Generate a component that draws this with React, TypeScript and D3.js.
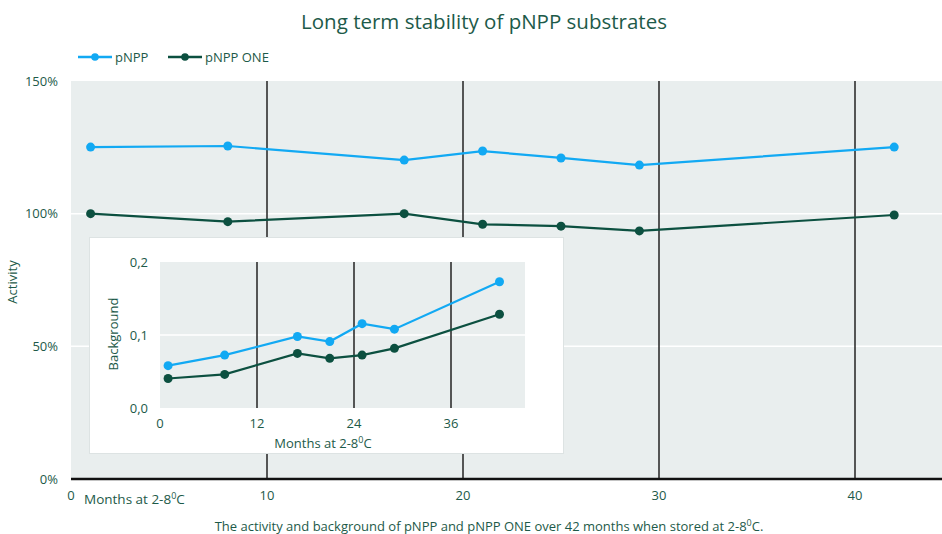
import React from "react";
import * as d3 from "d3";

const months = [1, 8, 17, 21, 25, 29, 42];
const activityPNPP = [125.1, 125.5, 120.2, 123.6, 121.0, 118.3, 125.1];
const activityONE = [100.0, 97.0, 100.0, 96.0, 95.3, 93.5, 99.5];
const backgroundPNPP = [0.058, 0.0725, 0.098, 0.091, 0.1155, 0.108, 0.173];
const backgroundONE = [0.0404, 0.046, 0.0748, 0.068, 0.0725, 0.0817, 0.1285];
const mainXTicks = [0, 10, 20, 30, 40];
const mainYTicks = [0, 50, 100, 150];
const insetXTicks = [0, 12, 24, 36];
const insetYTicks = [0, 0.1, 0.2];
const seriesNames = ["pNPP", "pNPP ONE"];

const BLUE = "#12a9f3";
const DARK = "#0c5040";
const TEXT = "#1d5a49";
const GRAY = "#e9eeee";
const FONT = "'Open Sans', sans-serif";

export default function App() {
  const W = 942;
  const H = 534;
  const x = d3.scaleLinear().domain([0, 10]).range([71, 267]);
  const y = d3.scaleLinear().domain([0, 150]).range([479, 81]);
  const xi = d3.scaleLinear().domain([0, 12]).range([160, 257]);
  const yi = d3.scaleLinear().domain([0, 0.2]).range([408, 262]);

  const mainLine = d3
    .line<number>()
    .x((_, i) => x(months[i]))
    .y((d) => y(d));
  const insetLine = d3
    .line<number>()
    .x((_, i) => xi(months[i]))
    .y((d) => yi(d));

  const mainSeries = [
    { vals: activityPNPP, color: BLUE },
    { vals: activityONE, color: DARK },
  ];
  const insetSeries = [
    { vals: backgroundPNPP, color: BLUE },
    { vals: backgroundONE, color: DARK },
  ];

  const fmtComma = (v: number) => v.toFixed(1).replace(".", ",");

  return (
    <svg
      width={W}
      height={H}
      style={{ position: "absolute", left: 0, top: 0, fontFamily: FONT }}
    >
      <rect x={0} y={0} width={W} height={H} fill="#ffffff" />
      <text x={484} y={29} textAnchor="middle" fontSize={20.5} fontWeight={500} fill={TEXT}>
        Long term stability of pNPP substrates
      </text>

      {/* legend */}
      {seriesNames.map((name, i) => {
        const lx = i === 0 ? 78 : 168;
        const color = i === 0 ? BLUE : DARK;
        return (
          <g key={name}>
            <line x1={lx} x2={lx + 34} y1={57} y2={57} stroke={color} strokeWidth={2.5} />
            <circle cx={lx + 17} cy={57} r={3.8} fill={color} />
            <text x={lx + 37} y={61.5} fontSize={13} fill={TEXT}>
              {name}
            </text>
          </g>
        );
      })}

      {/* main plot background */}
      <rect x={x(0)} y={y(150)} width={W - x(0)} height={y(0) - y(150)} fill={GRAY} />
      {mainYTicks.slice(1, 3).map((t) => (
        <line key={t} x1={x(0)} x2={W} y1={y(t)} y2={y(t)} stroke="#ffffff" strokeWidth={1.5} />
      ))}
      {mainXTicks.slice(1).map((t) => (
        <line key={t} x1={x(t)} x2={x(t)} y1={y(150)} y2={y(0)} stroke="#222222" strokeWidth={1.5} />
      ))}
      <line x1={x(0)} x2={W} y1={y(0)} y2={y(0)} stroke="#111111" strokeWidth={2.5} />

      {mainYTicks.map((t) => (
        <text key={t} x={58} y={y(t) + 4.5} textAnchor="end" fontSize={13} fill={TEXT}>
          {t}%
        </text>
      ))}
      {mainXTicks.map((t) => (
        <text key={t} x={x(t)} y={500} textAnchor="middle" fontSize={13} fill={TEXT}>
          {t}
        </text>
      ))}
      <text x={84} y={504} fontSize={13.5} fill={TEXT}>
        Months at 2-8
        <tspan fontSize={9} dy={-5}>0</tspan>
        <tspan dy={5}>C</tspan>
      </text>
      <text
        transform={`translate(17,282) rotate(-90)`}
        textAnchor="middle"
        fontSize={13}
        fill={TEXT}
      >
        Activity
      </text>

      {mainSeries.map((s, k) => (
        <g key={k}>
          <path d={mainLine(s.vals) || ""} fill="none" stroke={s.color} strokeWidth={2.2} />
          {s.vals.map((v, i) => (
            <circle key={i} cx={x(months[i])} cy={y(v)} r={4.5} fill={s.color} />
          ))}
        </g>
      ))}

      {/* inset */}
      <rect x={89.5} y={237.5} width={474} height={216} fill="#ffffff" stroke="#dde3e3" strokeWidth={1} />
      <rect x={xi(0)} y={yi(0.2)} width={525 - xi(0)} height={yi(0) - yi(0.2)} fill={GRAY} />
      <line x1={xi(0)} x2={525} y1={yi(0.1)} y2={yi(0.1)} stroke="#ffffff" strokeWidth={1.5} />
      {insetXTicks.slice(1).map((t) => (
        <line key={t} x1={xi(t)} x2={xi(t)} y1={yi(0.2)} y2={yi(0)} stroke="#222222" strokeWidth={1.5} />
      ))}
      {insetYTicks.map((t) => (
        <text key={t} x={148} y={yi(t) + 4.5} textAnchor="end" fontSize={13} fill={TEXT}>
          {fmtComma(t)}
        </text>
      ))}
      {insetXTicks.map((t) => (
        <text key={t} x={xi(t)} y={428} textAnchor="middle" fontSize={13} fill={TEXT}>
          {t}
        </text>
      ))}
      <text x={323} y={448} textAnchor="middle" fontSize={13} fill={TEXT}>
        Months at 2-8
        <tspan fontSize={9} dy={-5}>0</tspan>
        <tspan dy={5}>C</tspan>
      </text>
      <text
        transform={`translate(118,334) rotate(-90)`}
        textAnchor="middle"
        fontSize={13}
        fill={TEXT}
      >
        Background
      </text>
      {insetSeries.map((s, k) => (
        <g key={k}>
          <path d={insetLine(s.vals) || ""} fill="none" stroke={s.color} strokeWidth={2.2} />
          {s.vals.map((v, i) => (
            <circle key={i} cx={xi(months[i])} cy={yi(v)} r={4.5} fill={s.color} />
          ))}
        </g>
      ))}

      <text x={489} y={531} textAnchor="middle" fontSize={13} fill={TEXT}>
        The activity and background of pNPP and pNPP ONE over 42 months when stored at 2-8
        <tspan fontSize={9} dy={-5}>0</tspan>
        <tspan dy={5}>C.</tspan>
      </text>
    </svg>
  );
}
